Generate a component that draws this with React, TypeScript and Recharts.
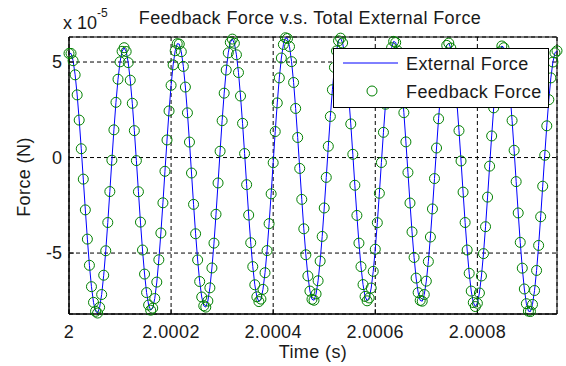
import { ComposedChart, Line, XAxis, YAxis, CartesianGrid, Legend, ReferenceArea } from "recharts";

// sampling of the recorded signals
const START_TIME = 2; // s
const SAMPLE_STEP = 4e-6; // s

// forces in units of 1e-5 N
const externalForce = [
  5.45, 5.45, 5.07, 4.33, 3.28, 1.96, 0.46, -1.13, -2.74, -4.27, -5.64, -6.76, -7.58, -8.05,
  -8.14, -7.84, -7.17, -6.16, -4.88, -3.4, -1.78, -0.14, 1.45, 2.89, 4.1, 5.01, 5.56,
  5.75, 5.55, 4.97, 4.05, 2.84, 1.41, -0.16, -1.79, -3.38, -4.84, -6.1, -7.07, -7.72, -7.99,
  -7.88, -7.38, -6.52, -5.35, -3.95, -2.37, -0.72, 0.92, 2.44, 3.78, 4.85, 5.59, 5.96,
  5.94, 5.54, 4.77, 3.69, 2.34, 0.81, -0.81, -2.45, -3.99, -5.36, -6.49, -7.3, -7.76,
  -7.83, -7.51, -6.82, -5.78, -4.48, -2.97, -1.33, 0.33, 1.93, 3.37, 4.58, 5.48, 6.03,
  6.2, 5.98, 5.38, 4.45, 3.22, 1.79, 0.21, -1.42, -3.01, -4.46, -5.71, -6.66, -7.29, -7.54,
  -7.41, -6.9, -6.03, -4.87, -3.46, -1.9, -0.27, 1.36, 2.86, 4.17, 5.21, 5.92, 6.27,
  6.23, 5.81, 5.02, 3.93, 2.57, 1.05, -0.57, -2.19, -3.73, -5.09, -6.2, -6.99, -7.42,
  -7.47, -7.14, -6.45, -5.42, -4.13, -2.64, -1.04, 0.59, 2.15, 3.55, 4.72, 5.58, 6.11,
  6.25, 6.0, 5.39, 4.44, 3.2, 1.76, 0.17, -1.45, -3.03, -4.48, -5.71, -6.65, -7.27, -7.5,
  -7.35, -6.83, -5.96, -4.8, -3.41, -1.87, -0.26, 1.32, 2.79, 4.06, 5.07, 5.75, 6.08,
  6.02, 5.58, 4.79, 3.69, 2.35, 0.82, -0.78, -2.38, -3.89, -5.23, -6.31, -7.07, -7.48,
  -7.52, -7.17, -6.47, -5.44, -4.16, -2.69, -1.1, 0.5, 2.03, 3.4, 4.54, 5.38, 5.87,
  5.99, 5.73, 5.1, 4.13, 2.87, 1.41, -0.18, -1.81, -3.4, -4.84, -6.06, -6.99, -7.59, -7.8,
  -7.63, -7.09, -6.2, -5.03, -3.62, -2.07, -0.45, 1.13, 2.6, 3.87, 4.86, 5.53, 5.84,
  5.75, 5.29, 4.46, 3.33, 1.94, 0.38, -1.26, -2.9, -4.44, -5.79, -6.88, -7.65, -8.04,
  -8.06, -7.69, -6.96, -5.91, -4.6, -3.1, -1.5, 0.12, 1.66, 3.03, 4.17, 5.0, 5.48,
  5.59,
];
// the feedback tracks the external force sample for sample
const feedbackForce = [...externalForce];

const timeTicks = [2, 2.0002, 2.0004, 2.0006, 2.0008];
const forceTicks = [-5, 0, 5];
const timeDomain = [2, 2.000956];
const forceDomain = [-8.19, 6.31];

const data = externalForce.map((f, i) => ({
  time: START_TIME + i * SAMPLE_STEP,
  external: f,
  feedback: feedbackForce[i],
}));

const FONT = "'Liberation Sans', Arial, sans-serif";
const TEXT = "#1a1a1a";
const BLUE = "#0000ff";
const GREEN = "#008000";
const SPACING = 0.4;

const formatTime = (v: number) => (v === 2 ? "2" : v.toFixed(4));

const LegendBox = ({ payload }: any) => (
  <svg width={216} height={60} style={{ display: "block" }}>
    <rect x={0.5} y={0.5} width={215} height={59} fill="#fff" stroke="#000" />
    {(payload || []).map((entry: any, i: number) => {
      const cy = 15 + i * 28;
      return (
        <g key={entry.value}>
          {entry.dataKey === "external" ? (
            <line x1={10} x2={65} y1={cy} y2={cy} stroke={BLUE} />
          ) : (
            <circle cx={39} cy={cy} r={5} fill="none" stroke={GREEN} />
          )}
          <text x={73} y={cy + 7} fontSize={18} fill={TEXT} fontFamily={FONT} letterSpacing={SPACING}>
            {entry.value}
          </text>
        </g>
      );
    })}
  </svg>
);

export default function App() {
  return (
    <div style={{ position: "absolute", left: 0, top: 0, width: 566, height: 366, background: "#fff", fontFamily: FONT }}>
      <ComposedChart width={566} height={366} data={data} margin={{ top: 37, right: 9, bottom: 0, left: 0 }}>
        <CartesianGrid stroke="#000" strokeDasharray="4 3" />
        <XAxis
          dataKey="time"
          type="number"
          domain={timeDomain}
          ticks={timeTicks}
          tickFormatter={formatTime}
          height={52}
          tickSize={-5}
          tickMargin={16}
          axisLine={{ stroke: "#000" }}
          tickLine={{ stroke: "#000" }}
          tick={{ fill: TEXT, fontSize: 18, fontFamily: FONT, letterSpacing: SPACING }}
        />
        <YAxis
          type="number"
          domain={forceDomain}
          ticks={forceTicks}
          width={69}
          tickSize={-5}
          tickMargin={12}
          axisLine={{ stroke: "#000" }}
          tickLine={{ stroke: "#000" }}
          tick={{ fill: TEXT, fontSize: 18, fontFamily: FONT }}
        />
        <ReferenceArea
          x1={timeDomain[0]}
          x2={timeDomain[1]}
          y1={forceDomain[0]}
          y2={forceDomain[1]}
          fill="none"
          stroke="#000"
          strokeWidth={1}
          ifOverflow="visible"
        />
        <Line
          dataKey="external"
          name="External Force"
          type="linear"
          stroke={BLUE}
          strokeWidth={1}
          dot={false}
          isAnimationActive={false}
        />
        <Line
          dataKey="feedback"
          name="Feedback Force"
          type="linear"
          stroke="none"
          dot={{ r: 5, stroke: GREEN, fill: "none", strokeWidth: 1 }}
          isAnimationActive={false}
        />
        <Legend
          verticalAlign="middle"
          align="center"
          content={LegendBox}
          wrapperStyle={{ position: "absolute", left: 333, top: 48, width: 216, height: 60 }}
        />
      </ComposedChart>
      <svg width={566} height={366} style={{ position: "absolute", left: 0, top: 0, pointerEvents: "none" }}>
        <text x={310} y={24} textAnchor="middle" fontSize={18} fill={TEXT} fontFamily={FONT} letterSpacing={SPACING}>
          Feedback Force v.s. Total External Force
        </text>
        <text x={63} y={29} fontSize={18} fill={TEXT} fontFamily={FONT}>
          x 10
          <tspan dy={-12} fontSize={12}>-5</tspan>
        </text>
        <text transform="translate(30,177) rotate(-90)" textAnchor="middle" fontSize={18} fill={TEXT} fontFamily={FONT} letterSpacing={SPACING}>
          Force (N)
        </text>
        <text x={313} y={358} textAnchor="middle" fontSize={18} fill={TEXT} fontFamily={FONT} letterSpacing={SPACING}>
          Time (s)
        </text>
      </svg>
    </div>
  );
}
